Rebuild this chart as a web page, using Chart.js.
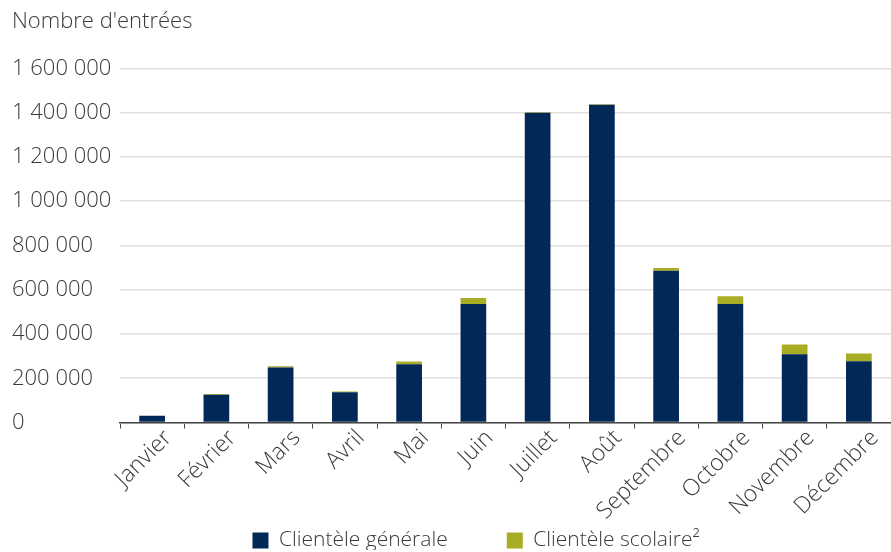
<!DOCTYPE html>
<html>
<head>
<meta charset="utf-8">
<script src="https://cdn.jsdelivr.net/npm/chart.js@4"></script>
<style>
  html, body { margin: 0; padding: 0; background: #fff; }
  #wrap { width: 891px; height: 552px; }
</style>
</head>
<body>
<div id="wrap"><canvas id="c"></canvas></div>
<script>
// Données
const mois = ['Janvier', 'Février', 'Mars', 'Avril', 'Mai', 'Juin', 'Juillet', 'Août',
  'Septembre', 'Octobre', 'Novembre', 'Décembre'];
const clienteleGenerale = [30000, 125000, 248000, 137000, 263000, 535000, 1400000, 1436000,
  686000, 535000, 308000, 277000];
const clienteleScolaire = [0, 4000, 6000, 3000, 13000, 27000, 2000, 2000,
  12000, 36000, 45000, 35000];
const yTicks = [0, 200000, 400000, 600000, 800000, 1000000, 1200000, 1400000, 1600000];

const FONT = "'Open Sans', sans-serif";
const TXT = '#3a3a3a';

function fmt(v) {
  return String(v).replace(/\B(?=(\d{3})+(?!\d))/g, ' ');
}

// décale la légende horizontalement
const legendShift = {
  id: 'legendShift',
  afterLayout(chart) {
    const l = chart.legend;
    if (!l) return;
    const dx = 22;
    l.left += dx;
    l.right += dx;
  }
};

new Chart(document.getElementById('c').getContext('2d'), {
  type: 'bar',
  data: {
    labels: mois,
    datasets: [
      {
        label: 'Clientèle générale',
        data: clienteleGenerale,
        backgroundColor: '#012856',
        categoryPercentage: 1,
        barPercentage: 0.4,
      },
      {
        label: 'Clientèle scolaire²',
        data: clienteleScolaire,
        backgroundColor: '#a9ac25',
        categoryPercentage: 1,
        barPercentage: 0.4,
      },
    ],
  },
  options: {
    responsive: true,
    maintainAspectRatio: false,
    animation: false,
    layout: { padding: { left: 12, right: -5, top: 0, bottom: 2 } },
    scales: {
      x: {
        stacked: true,
        offset: true,
        afterFit(scale) {
          scale.height = 97.5;
        },
        grid: {
          display: true,
          offset: true,
          drawOnChartArea: false,
          drawTicks: true,
          tickLength: 6,
          color: '#444',
        },
        border: { display: true, color: '#444', width: 1.5 },
        ticks: {
          color: TXT,
          font: { family: FONT, size: 23, weight: 300 },
          minRotation: 45,
          maxRotation: 45,
          padding: -4,
          labelOffset: 16,
        },
      },
      y: {
        stacked: true,
        min: 0,
        max: 1600000,
        afterBuildTicks(axis) {
          axis.ticks = yTicks.map((v) => ({ value: v }));
        },
        afterFit(scale) {
          scale.width = 108;
        },
        grid: { color: '#e0e0e0', lineWidth: 1.5, drawTicks: false },
        border: { display: false },
        ticks: {
          color: TXT,
          crossAlign: 'far',
          padding: 12,
          font: { family: FONT, size: 22, weight: 300 },
          callback: (v) => fmt(v),
        },
      },
    },
    plugins: {
      title: {
        display: true,
        text: "Nombre d'entrées",
        align: 'start',
        color: TXT,
        font: { family: FONT, size: 22, weight: 300 },
        padding: { top: 9, bottom: 33 },
      },
      legend: {
        position: 'bottom',
        maxHeight: 30,
        labels: {
          color: TXT,
          font: { family: FONT, size: 21, weight: 300 },
          boxWidth: 16,
          boxHeight: 16,
          padding: 10,
          generateLabels(chart) {
            const items = Chart.defaults.plugins.legend.labels.generateLabels(chart);
            // espace entre les deux éléments de légende
            items[0].text += '\u00a0'.repeat(9);
            return items;
          },
        },
      },
      tooltip: { enabled: false },
    },
  },
  plugins: [legendShift],
});
</script>
</body>
</html>
